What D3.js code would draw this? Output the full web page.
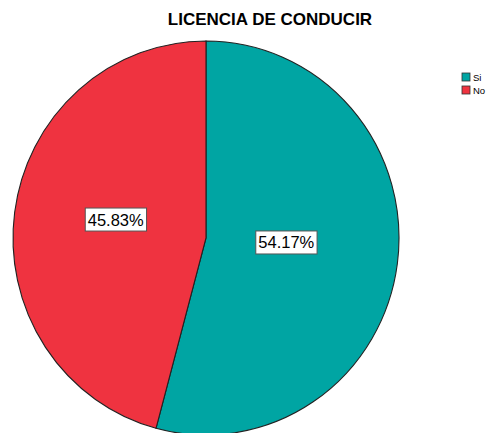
<!DOCTYPE html>
<html>
<head>
<meta charset="utf-8">
<script src="https://cdn.jsdelivr.net/npm/d3@7"></script>
<style>
  html, body { margin: 0; padding: 0; background: #fff; overflow: hidden; }
  svg { display: block; font-family: "Liberation Sans", Arial, sans-serif; }
</style>
</head>
<body>
<svg id="chart" width="487" height="433"></svg>
<script>
  // data
  const categories = ['Si', 'No'];
  const percents = [54.17, 45.83];
  const sliceColors = ['#00A5A3', '#EF3340'];
  const chartTitle = 'LICENCIA DE CONDUCIR';

  const svg = d3.select('#chart');

  // pie is slightly taller than wide in the original
  const cx = 206, cy = 238, rx = 193, ry = 197;

  const pie = d3.pie().sort(null).value((d) => d.value);
  const slices = pie(categories.map((c, i) => ({ cat: c, value: percents[i] })));

  const arc = d3.arc().innerRadius(0).outerRadius(rx);
  const labelArc = d3.arc().innerRadius(86).outerRadius(86);
  const color = d3.scaleOrdinal().domain(categories).range(sliceColors);

  const g = svg.append('g')
    .attr('transform', `translate(${cx},${cy}) scale(1,${ry / rx})`);

  g.selectAll('path.slice')
    .data(slices)
    .join('path')
    .attr('class', 'slice')
    .attr('d', arc)
    .attr('fill', (d) => color(d.data.cat))
    .attr('stroke', '#222')
    .attr('stroke-width', 1.1)
    .attr('vector-effect', 'non-scaling-stroke');

  // value labels in white boxes
  const labels = svg.append('g').attr('transform', `translate(${cx - 5},${cy})`);
  slices.forEach((d) => {
    const [lx, ly0] = labelArc.centroid(d);
    const ly = ly0 * (ry / rx) - 7;
    const txt = d.data.value.toFixed(2) + '%';
    const lg = labels.append('g').attr('transform', `translate(${lx},${ly})`);
    const t = lg.append('text')
      .attr('text-anchor', 'middle')
      .attr('dominant-baseline', 'central')
      .attr('font-size', 16.5)
      .attr('fill', '#000')
      .text(txt);
    const bb = t.node().getBBox();
    lg.insert('rect', 'text')
      .attr('x', bb.x - 2.5)
      .attr('y', -11.5)
      .attr('width', bb.width + 5)
      .attr('height', 23)
      .attr('fill', '#fff')
      .attr('stroke', '#555')
      .attr('stroke-width', 1);
  });

  // title
  svg.append('text')
    .attr('x', 270)
    .attr('y', 25)
    .attr('text-anchor', 'middle')
    .attr('font-size', 17)
    .attr('font-weight', 'bold')
    .attr('fill', '#000')
    .text(chartTitle);

  // legend
  const legend = svg.append('g').attr('transform', 'translate(462,73)');
  const item = legend.selectAll('g')
    .data(categories)
    .join('g')
    .attr('transform', (d, i) => `translate(0,${i * 13})`);
  item.append('rect')
    .attr('width', 8)
    .attr('height', 8)
    .attr('fill', (d) => color(d))
    .attr('stroke', '#333')
    .attr('stroke-width', 0.8);
  item.append('text')
    .attr('x', 11)
    .attr('y', 8)
    .attr('font-size', 9.5)
    .attr('fill', '#000')
    .text((d) => d);
</script>
</body>
</html>
